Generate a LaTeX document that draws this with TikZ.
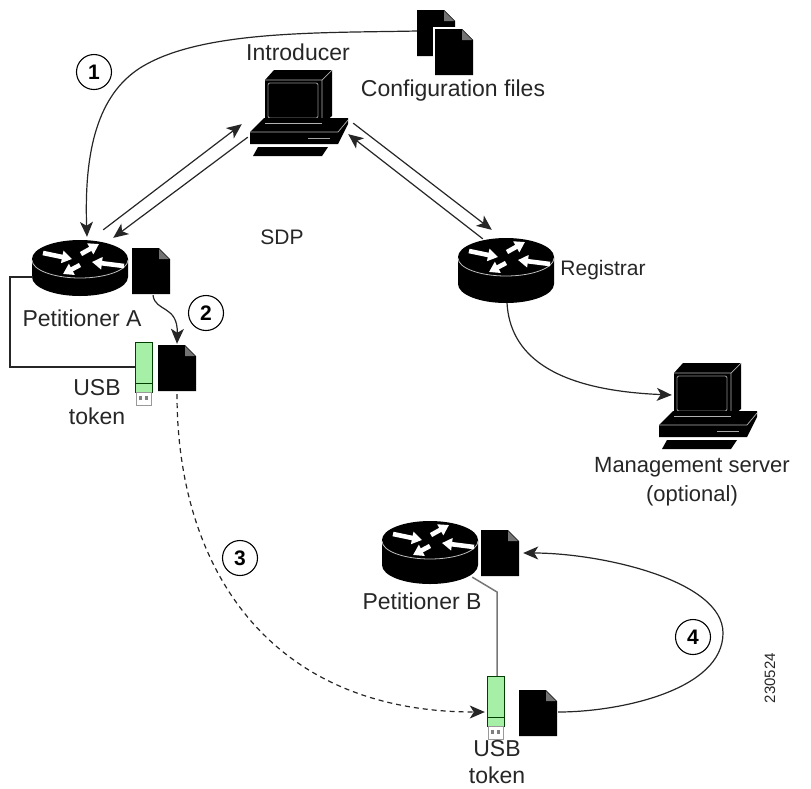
\documentclass[tikz,border=0pt]{standalone}
\usepackage{fontspec}
\setmainfont{Liberation Sans}
\usetikzlibrary{arrows.meta}
\definecolor{usbgreen}{HTML}{A6EFA6}
\definecolor{wiregray}{HTML}{777777}
\newcommand{\rdepth}{20}
\tikzset{
  x=1pt,y=-1pt,
  lbl/.style={font=\fontsize{23}{29}\selectfont,text=black!85,inner sep=0pt,align=center},
  num/.style={circle,draw,line width=1.1pt,minimum size=35pt,inner sep=0pt,font=\fontsize{21}{24}\selectfont\bfseries},
  conn/.style={line width=1.2pt,draw=black!85},
  arr/.style={conn,-{Stealth[length=15pt,width=13pt,inset=4pt]}},
  anchorpt/.style={inner sep=0pt,minimum size=0pt},
  docshape/.pic={
    \fill[black] (0,0)--(27,0)--(38,11)--(38,46)--(0,46)--cycle;
    \fill[black!55] (27,1)--(37,11)--(27,11)--cycle;
  },
  routershape/.pic={
    \fill[black] (-48,0) arc[start angle=180,end angle=360,x radius=48,y radius=19]
      -- (48,\rdepth) arc[start angle=0,end angle=180,x radius=48,y radius=19] -- cycle;
    \draw[black!25,line width=.8pt] (-48,1) arc[start angle=180,end angle=0,x radius=48,y radius=18];
    \foreach \a/\b/\c/\d in {-37/-6/-8/0, 44/7/12/3, 1/-5/19/-15, 0/6/-17/15}{
      \draw[white,line width=4.6pt,-{Triangle[length=10pt,width=12pt]}] (\a,\b)--(\c,\d);
    }
  },
  pcshape/.pic={
    % monitor
    \fill[black] (15,10)--(24,0)--(82,0)--(82,46)--(72,54)--(15,54)--cycle;
    \draw[black!30,line width=.7pt] (15,10)--(72,10)--(82,0) (72,10)--(72,53);
    \draw[black!45,line width=.9pt,rounded corners=2pt] (18,13) rectangle (68,48);
    % base
    \fill[black] (0,62)--(14,48)--(98,48)--(98,54)--(88,74)--(0,74)--cycle;
    \fill[black] (15,54) rectangle (72,50);
    \draw[black!30,line width=.7pt] (0,62)--(88,62)--(98,50);
    \draw[black!30,line width=.7pt] (15,53)--(72,53);
    \draw[black!35,line width=.9pt] (58,68)--(80,68);
    % keyboard
    \fill[black] (8,77)--(78,77)--(72,86)--(3,86)--cycle;
  },
  usbshape/.pic={
    \draw[black!60!green!60!black,line width=.8pt,fill=usbgreen] (0,0) rectangle (17,50);
    \draw[black!60!green!60!black,line width=.8pt] (0,41)--(17,41);
    \draw[black!40,line width=.8pt,fill=white] (1,50) rectangle (16,63);
    \fill[black!50] (4,54) rectangle (7,58);
    \fill[black!50] (10,54) rectangle (13,58);
  }
}
\begin{document}
\begin{tikzpicture}
\useasboundingbox (0,0) rectangle (811,788);
\coordinate (wa1) at (10,277);
\coordinate (wa2) at (10,367);
\coordinate (wb1) at (497,592);

\pic at (250,70) {pcshape};
\pic at (659,363) {pcshape};
\renewcommand{\rdepth}{18}
\pic at (80,259) {routershape};
\renewcommand{\rdepth}{27}
\pic at (506,257) {routershape};
\renewcommand{\rdepth}{25}
\pic at (430,540) {routershape};
\pic at (417,10) {docshape};
\fill[white] (433,27) rectangle (476,78);
\pic at (435,29) {docshape};
\pic at (132,248) {docshape};
\pic at (158,345) {docshape};
\pic at (481,530) {docshape};
\pic at (519,690) {docshape};
\pic at (135,342) {usbshape};
\pic at (487,676) {usbshape};

\node[anchorpt] (cfg) at (417,31) {};
\node[anchorpt] (ra1) at (87,237) {};
\node[anchorpt] (ra2) at (103,230) {};
\node[anchorpt] (ra3) at (113,238) {};
\node[anchorpt] (in1) at (242,124) {};
\node[anchorpt] (in2) at (248,137) {};
\node[anchorpt] (in3) at (353,123) {};
\node[anchorpt] (in4) at (348,134) {};
\node[anchorpt] (re1) at (492,230) {};
\node[anchorpt] (re2) at (483,239) {};
\node[anchorpt] (re3) at (507,303) {};
\node[anchorpt] (ms) at (672,395) {};
\node[anchorpt] (da) at (153,295) {};
\node[anchorpt] (du) at (177,344) {};
\node[anchorpt] (dd) at (177,394) {};
\node[anchorpt] (ub) at (485,712) {};
\node[anchorpt] (db) at (558,712) {};
\node[anchorpt] (dbt) at (523,553) {};
\node[anchorpt] (wa0) at (33,277) {};
\node[anchorpt] (wa3) at (135,367) {};
\node[anchorpt] (wb0) at (472,577) {};
\node[anchorpt] (wb2) at (497,676) {};

\draw[arr] (cfg) .. controls (320,33) and (200,30) .. (140,68) .. controls (98,95) and (84,150) .. (ra1);
\draw[arr] (ra2) -- (in1);
\draw[arr] (in2) -- (ra3);
\draw[arr] (in3) -- (re1);
\draw[arr] (re2) -- (in4);
\draw[arr] (re3) .. controls (510,353) and (550,390) .. (ms);
\draw[arr] (da) .. controls (155,312) and (178,305) .. (du);
\draw[arr,dash pattern=on 5pt off 4pt] (dd) .. controls (177,568) and (269,712) .. (ub);
\draw[arr] (db) .. controls (620,712) and (723,690) .. (723,633) .. controls (723,580) and (600,553) .. (dbt);
\draw[conn] (wa0) -- (wa1) -- (wa2) -- (wa3);
\draw[conn,draw=wiregray,line width=1.5pt] (wb0) -- (wb1) -- (wb2);

\node[num] (n1) at (94,72) {1};
\node[num] (n2) at (206,313) {2};
\node[num] (n3) at (240,558) {3};
\node[num] (n4) at (693,637) {4};

\node[lbl] (tintro) at (298,52) {Introducer};
\node[lbl] (tcfg) at (453,91) {Configuration files};
\node[lbl,font=\fontsize{21}{24}\selectfont] (tsdp) at (282,237) {SDP};
\node[lbl,font=\fontsize{21}{24}\selectfont] (treg) at (603,270) {Registrar};
\node[lbl] (tpa) at (82,318) {Petitioner A};
\node[lbl] (tua) at (97,402.5) {USB\\token};
\node[lbl,font=\fontsize{22}{29}\selectfont] (tms) at (692,482) {Management server\\(optional)};
\node[lbl] (tpb) at (422,601) {Petitioner B};
\node[lbl,font=\fontsize{23}{27}\selectfont] (tub) at (497,762) {USB\\token};
\node[lbl,rotate=90,font=\fontsize{15}{17}\selectfont] (tid) at (770,678) {230524};
\end{tikzpicture}
\end{document}
